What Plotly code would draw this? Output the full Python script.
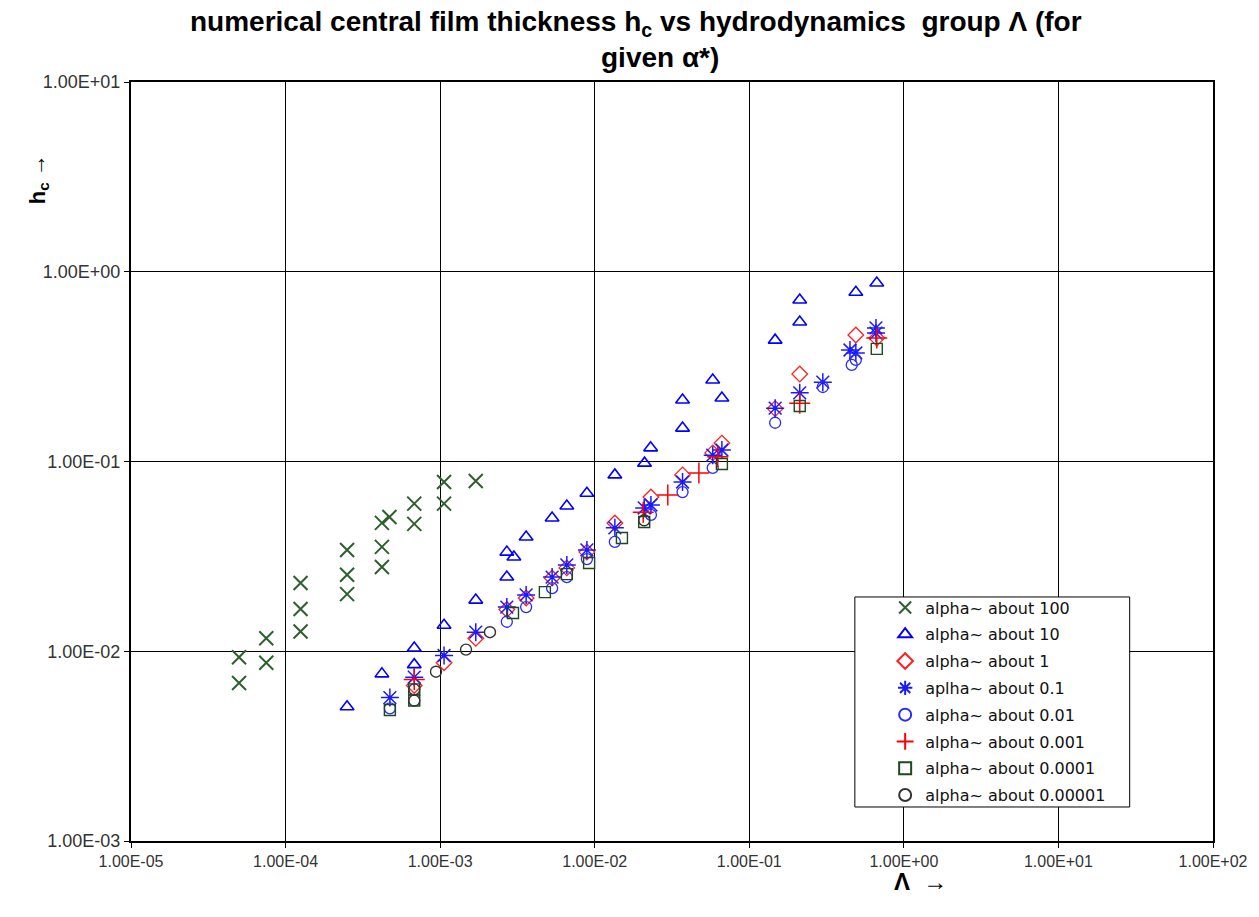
import plotly.graph_objects as go

# alpha ~ 100
a100_x = [5e-5, 5e-5, 7.5e-5, 7.5e-5, 1.25e-4, 1.25e-4, 1.25e-4, 2.5e-4, 2.5e-4, 2.5e-4,
          4.2e-4, 4.2e-4, 4.2e-4, 4.7e-4, 6.8e-4, 6.8e-4, 1.06e-3, 1.06e-3, 1.7e-3]
a100_y = [0.0093, 0.0068, 0.0117, 0.0087, 0.0229, 0.0167, 0.0127, 0.0342, 0.0253, 0.0200,
          0.0475, 0.0355, 0.0278, 0.051, 0.060, 0.0469, 0.078, 0.060, 0.079]
# alpha ~ 10
a10_x = [2.5e-4, 4.2e-4, 6.8e-4, 6.8e-4, 1.06e-3, 1.7e-3, 2.7e-3, 2.7e-3, 3.0e-3, 3.6e-3,
         5.3e-3, 6.6e-3, 8.9e-3, 0.0135, 0.021, 0.023, 0.037, 0.037, 0.058, 0.0665,
         0.147, 0.212, 0.212, 0.489, 0.668]
a10_y = [0.0051, 0.0076, 0.0104, 0.0085, 0.0137, 0.0186, 0.0246, 0.0333, 0.0314, 0.040,
         0.0504, 0.0583, 0.068, 0.085, 0.098, 0.118, 0.150, 0.211, 0.269, 0.216,
         0.436, 0.543, 0.71, 0.78, 0.873]
# alpha ~ 1
a1_x = [6.8e-4, 1.06e-3, 1.7e-3, 2.7e-3, 3.6e-3, 5.3e-3, 6.6e-3, 8.9e-3, 0.0135, 0.0231,
        0.037, 0.058, 0.0665, 0.147, 0.212, 0.489, 0.668]
a1_y = [0.0066, 0.0087, 0.0117, 0.0166, 0.0191, 0.0243, 0.0275, 0.0333, 0.0474, 0.065,
        0.085, 0.111, 0.125, 0.19, 0.289, 0.464, 0.447]
# alpha ~ 0.1
a01_x = [4.73e-4, 6.8e-4, 1.06e-3, 1.7e-3, 2.7e-3, 3.6e-3, 5.3e-3, 6.6e-3, 8.9e-3, 0.0135,
         0.0209, 0.0231, 0.037, 0.058, 0.0665, 0.147, 0.212, 0.299, 0.448, 0.489, 0.66, 0.66]
a01_y = [0.0057, 0.0073, 0.0095, 0.0126, 0.0171, 0.0198, 0.0246, 0.0285, 0.0342, 0.0447,
         0.0569, 0.059, 0.078, 0.108, 0.115, 0.191, 0.23, 0.262, 0.387, 0.373, 0.506, 0.475]
# alpha ~ 0.01
a001_x = [4.73e-4, 2.7e-3, 3.6e-3, 5.3e-3, 6.6e-3, 8.9e-3, 0.0135, 0.0231, 0.037, 0.058,
          0.147, 0.299, 0.46, 0.489]
a001_y = [0.0050, 0.0143, 0.0171, 0.0215, 0.0246, 0.0306, 0.0377, 0.0523, 0.069, 0.0925,
          0.16, 0.247, 0.323, 0.343]
# alpha ~ 0.001
a0001_x = [6.8e-4, 0.0206, 0.0297, 0.0472, 0.0625, 0.212, 0.668]
a0001_y = [0.0071, 0.054, 0.0665, 0.087, 0.106, 0.203, 0.448]
# alpha ~ 0.0001
a00001_x = [4.73e-4, 6.8e-4, 6.8e-4, 2.96e-3, 4.76e-3, 6.6e-3, 9.2e-3, 0.015, 0.0209,
            0.0665, 0.212, 0.668]
a00001_y = [0.0049, 0.0063, 0.0055, 0.0159, 0.0205, 0.0255, 0.0292, 0.0395, 0.048,
            0.097, 0.196, 0.392]
# alpha ~ 0.00001
a000001_x = [6.8e-4, 6.8e-4, 9.4e-4, 1.47e-3, 2.1e-3, 0.0209]
a000001_y = [0.0063, 0.0055, 0.0078, 0.0102, 0.0126, 0.049]

tick_vals_x = [1e-5, 1e-4, 1e-3, 1e-2, 1e-1, 1e0, 1e1, 1e2]
tick_text_x = ["1.00E-05", "1.00E-04", "1.00E-03", "1.00E-02", "1.00E-01",
               "1.00E+00", "1.00E+01", "1.00E+02"]
tick_vals_y = [1e-3, 1e-2, 1e-1, 1e0, 1e1]
tick_text_y = ["1.00E-03", "1.00E-02", "1.00E-01", "1.00E+00", "1.00E+01"]

series = [
    ("alpha~ about 100", a100_x, a100_y, "x-thin-open", "#2f5f2f", 14, 2),
    ("alpha~ about 10", a10_x, a10_y, "triangle-up-open", "#0000ff", 12, 1.6),
    ("alpha~ about 1", a1_x, a1_y, "diamond-open", "#ff2020", 12, 1.3),
    ("aplha~ about 0.1", a01_x, a01_y, "asterisk-open", "#1a1aff", 15, 1.5),
    ("alpha~ about 0.01", a001_x, a001_y, "circle-open", "#2a2aff", 11, 1.3),
    ("alpha~ about 0.001", a0001_x, a0001_y, "cross-thin-open", "#ff0000", 15, 1.5),
    ("alpha~ about 0.0001", a00001_x, a00001_y, "square-open", "#1c4a1c", 11, 1.4),
    ("alpha~ about 0.00001", a000001_x, a000001_y, "circle-open", "#333333", 11, 1.4),
]

fig = go.Figure()
for i, (name, xs, ys, sym, col, size, lw) in enumerate(series):
    fig.add_trace(go.Scatter(
        x=xs, y=ys, mode="markers", name=name, legendgroup=f"g{i}",
        marker=dict(symbol=sym, size=size, color=col, line=dict(color=col, width=lw)),
    ))

fig.update_layout(
    width=1259, height=917,
    margin=dict(l=123, r=54, t=74, b=84),
    paper_bgcolor="white", plot_bgcolor="white",
    font=dict(family="Arial, Liberation Sans, sans-serif", size=13, color="#222222"),
    showlegend=True,
    legend=dict(
        x=0.697, y=0.330, xanchor="left", yanchor="top",
        bgcolor="rgba(0,0,0,0)", borderwidth=0,
        font=dict(size=16, family="DejaVu Sans, Verdana, sans-serif", color="#111111"),
        itemsizing="constant", tracegroupgap=3,
    ),
    xaxis=dict(
        type="log", range=[-5, 2], tickvals=tick_vals_x, ticktext=tick_text_x,
        showgrid=True, gridcolor="black", gridwidth=1,
        showline=True, linecolor="black", linewidth=2, mirror=True,
        ticks="outside", ticklen=5, tickcolor="black", zeroline=False,
        tickfont=dict(size=16, family="Arial, Liberation Sans, sans-serif", color="#333333"),
    ),
    yaxis=dict(
        type="log", range=[-3, 1], tickvals=tick_vals_y, ticktext=tick_text_y,
        showgrid=True, gridcolor="black", gridwidth=1,
        showline=True, linecolor="black", linewidth=2, mirror=True,
        ticks="outside", ticklen=5, tickcolor="black", zeroline=False,
        tickfont=dict(size=18, color="#333333"),
    ),
    shapes=[
        dict(type="rect", xref="paper", yref="paper",
             x0=0.669, x1=0.923, y0=0.0448, y1=0.3215,
             line=dict(color="black", width=1), fillcolor="white", layer="above"),
    ],
    annotations=[
        dict(text="<b>numerical central film thickness h<sub>c</sub> vs hydrodynamics  group Λ (for</b>",
             xref="paper", yref="paper", x=0.467, y=1.0, yshift=59, xanchor="center", yanchor="middle",
             showarrow=False, font=dict(size=28, color="black")),
        dict(text="<b>given α*)</b>",
             xref="paper", yref="paper", x=0.489, y=1.0, yshift=25, xanchor="center", yanchor="middle",
             showarrow=False, font=dict(size=28, color="black")),
        dict(text="<b>h<sub>c</sub> →</b>",
             xref="paper", yref="paper", x=0.0, xshift=-92, y=0.872, xanchor="center", yanchor="middle",
             showarrow=False, textangle=-90, font=dict(size=22, color="black")),
        dict(text="<b>Λ  →</b>",
             xref="paper", yref="paper", x=0.73, y=0, yshift=-40, xanchor="center", yanchor="middle",
             showarrow=False, font=dict(size=24, color="black")),
    ],
)

fig.write_html("out.html")
